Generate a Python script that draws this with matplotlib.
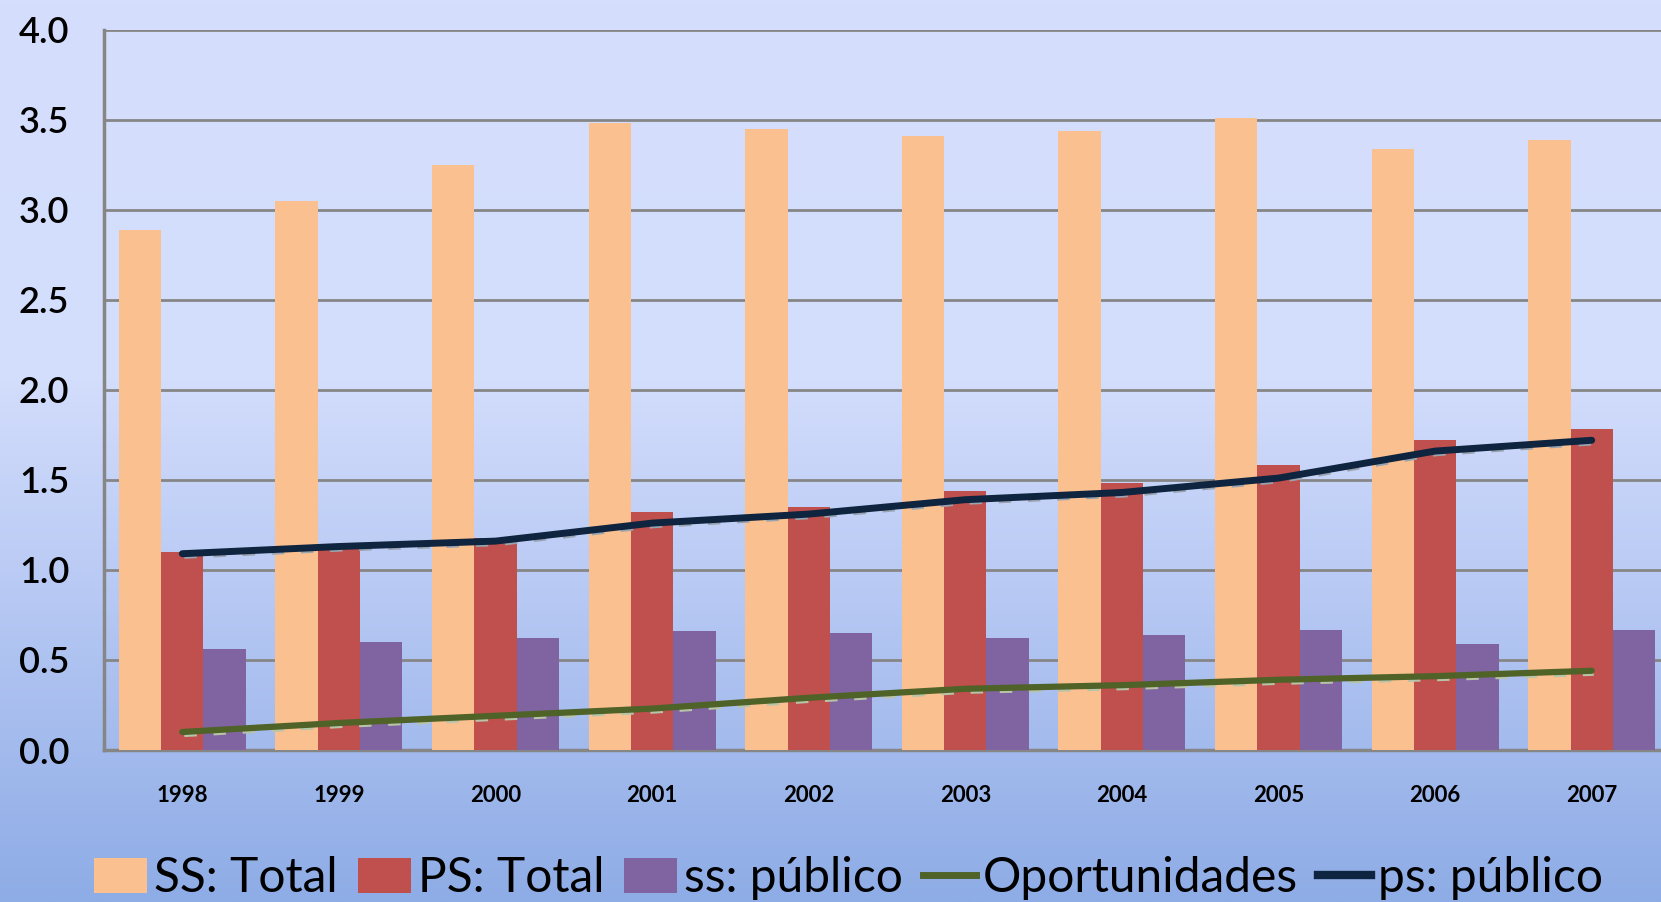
import numpy as np
import matplotlib
matplotlib.use("Agg")
import matplotlib.pyplot as plt
import matplotlib.transforms as mtransforms
from matplotlib.colors import LinearSegmentedColormap
from matplotlib.patches import Patch
from matplotlib.lines import Line2D

years = ["1998", "1999", "2000", "2001", "2002", "2003", "2004", "2005", "2006", "2007"]
ss_total = [2.89, 3.05, 3.25, 3.48, 3.45, 3.41, 3.44, 3.51, 3.34, 3.39]
ps_total = [1.10, 1.13, 1.18, 1.32, 1.35, 1.44, 1.48, 1.58, 1.72, 1.78]
ss_publico = [0.56, 0.60, 0.62, 0.66, 0.65, 0.62, 0.64, 0.665, 0.59, 0.665]
oportunidades = [0.10, 0.15, 0.19, 0.23, 0.29, 0.34, 0.36, 0.39, 0.41, 0.44]
ps_publico = [1.09, 1.13, 1.16, 1.26, 1.31, 1.39, 1.43, 1.51, 1.66, 1.72]
yticks = [0.0, 0.5, 1.0, 1.5, 2.0, 2.5, 3.0, 3.5, 4.0]

plt.rcParams['font.family'] = ['Lato', 'DejaVu Sans']

W, H = 1661, 902
fig = plt.figure(figsize=(W / 100, H / 100), dpi=100)

# background gradient
bg = fig.add_axes([0, 0, 1, 1], zorder=-10)
bg.axis('off')
cmap = LinearSegmentedColormap.from_list(
    'bg', [(0.0, '#D5DFFD'), (0.42, '#D3DDFC'), (0.62, '#BCCCF5'), (1.0, '#8EACE6')])
grad = np.linspace(0, 1, 512).reshape(-1, 1)
bg.imshow(grad, aspect='auto', cmap=cmap, extent=[0, 1, 0, 1], origin='upper')
bg.set_xlim(0, 1)
bg.set_ylim(0, 1)

left = 104 / W
bottom = 1 - 750 / H
top = 1 - 29.7 / H
cat_w = 156.6 / W
ax = fig.add_axes([left, bottom, cat_w * 10, top - bottom])
ax.set_facecolor('none')

x = np.arange(len(years))
bw = 0.27
ax.bar(x - bw, ss_total, bw, color='#FAC090', zorder=3, label='SS: Total')
ax.bar(x, ps_total, bw, color='#C0504D', zorder=3, label='PS: Total')
ax.bar(x + bw, ss_publico, bw, color='#8064A2', zorder=3, label='ss: público')

shadow = mtransforms.offset_copy(ax.transData, fig=fig, x=2, y=-3, units='dots')
ax.plot(x, oportunidades, color='#B8C4A8', lw=3, ls=(0, (3, 4)), zorder=4, transform=shadow)
ax.plot(x, ps_publico, color='#9AA4B0', lw=3, ls=(0, (3, 4)), zorder=4, transform=shadow)
ax.plot(x, oportunidades, color='#4F6228', lw=4.5, zorder=5, solid_capstyle='round', label='Oportunidades')
ax.plot(x, ps_publico, color='#0F243E', lw=5, zorder=5, solid_capstyle='round', label='ps: público')

ax.set_xlim(-0.5, 9.5)
ax.set_ylim(0, 4.0)
ax.set_yticks(yticks)
ax.set_yticklabels([f"{v:.1f}" for v in yticks], fontsize=26, fontweight='semibold')
ax.set_xticks(x)
ax.set_xticklabels(years, fontsize=16, fontweight='bold')
ax.tick_params(axis='y', length=0, pad=25)
ax.tick_params(axis='x', length=0, pad=25)
ax.grid(axis='y', color='#868686', lw=2, zorder=1)
for s in ['top', 'right']:
    ax.spines[s].set_visible(False)
ax.spines['left'].set_color('#868686')
ax.spines['left'].set_linewidth(2.5)
ax.spines['bottom'].set_color('#868686')
ax.spines['bottom'].set_linewidth(2.5)

handles = [
    Patch(facecolor='#FAC090', label='SS: Total'),
    Patch(facecolor='#C0504D', label='PS: Total'),
    Patch(facecolor='#8064A2', label='ss: público'),
    Line2D([0], [0], color='#4F6228', lw=5, label='Oportunidades'),
    Line2D([0], [0], color='#0F243E', lw=6, label='ps: público'),
]
fig.legend(handles=handles, loc='center', bbox_to_anchor=(0.511, 1 - 878 / H), ncol=5,
           frameon=False, fontsize=34.5, handlelength=1.1, handleheight=0.75,
           handletextpad=0.15, columnspacing=0.42, borderaxespad=0)

fig.savefig('out.png', dpi=100)
